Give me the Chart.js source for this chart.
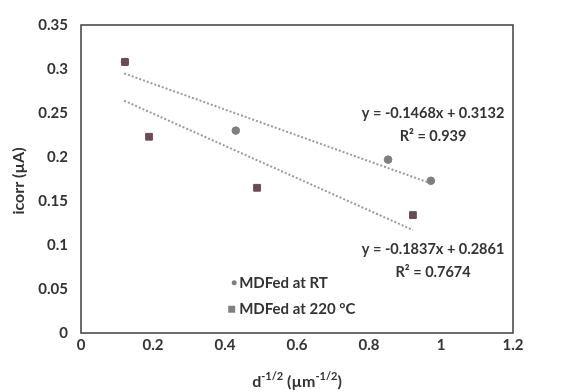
<!DOCTYPE html>
<html>
<head>
<meta charset="utf-8">
<script src="https://cdn.jsdelivr.net/npm/chart.js@4"></script>
<style>
  html, body { margin: 0; padding: 0; background: #fff; }
  #wrap { width: 563px; height: 392px; }
</style>
</head>
<body>
<div id="wrap"><canvas id="chart"></canvas></div>
<script>
// values
const rtX = [0.122, 0.43, 0.853, 0.972];
const rtY = [0.308, 0.23, 0.197, 0.173];
const hotX = [0.122, 0.189, 0.489, 0.922];
const hotY = [0.308, 0.223, 0.165, 0.134];

// trendline end points as drawn in the picture
const rtTrendX = [0.12, 0.972];
const rtTrendY = [0.295, 0.170];
const hotTrendX = [0.12, 0.922];
const hotTrendY = [0.264, 0.117];

const seriesNames = ['MDFed at RT', 'MDFed at 220 °C'];
const rtEq = ['y = -0.1468x + 0.3132', 'R² = 0.939'];
const hotEq = ['y = -0.1837x + 0.2861', 'R² = 0.7674'];

const xTicks = [0, 0.2, 0.4, 0.6, 0.8, 1, 1.2];
const yTicks = [0, 0.05, 0.1, 0.15, 0.2, 0.25, 0.3, 0.35];

const FONT = 'Lato, "Open Sans", sans-serif';
const TEXT = '#333333';
const rtColor = '#7f7f7f';
const hotColor = '#6b4b58';

const pts = (xs, ys) => xs.map((x, i) => ({ x: x, y: ys[i] }));

const overlay = {
  id: 'overlay',
  afterDraw(chart) {
    const { ctx, chartArea: a, scales: { x, y } } = chart;
    ctx.save();
    // frame
    ctx.strokeStyle = '#3c3c3c';
    ctx.lineWidth = 1.5;
    ctx.strokeRect(a.left, a.top, a.right - a.left, a.bottom - a.top);

    // trendline equations
    ctx.fillStyle = TEXT;
    ctx.font = 'bold 14.5px ' + FONT;
    ctx.textAlign = 'center';
    ctx.textBaseline = 'middle';
    const cx = x.getPixelForValue(0.978);
    ctx.fillText(rtEq[0], cx, y.getPixelForValue(0.25));
    ctx.fillText(rtEq[1], cx, y.getPixelForValue(0.224));
    ctx.fillText(hotEq[0], cx, y.getPixelForValue(0.0955));
    ctx.fillText(hotEq[1], cx, y.getPixelForValue(0.0693));

    // legend
    ctx.font = 'bold 15px ' + FONT;
    ctx.textAlign = 'left';
    const lx = x.getPixelForValue(0.42);
    const ly1 = y.getPixelForValue(0.057);
    const ly2 = y.getPixelForValue(0.027);
    ctx.fillStyle = rtColor;
    ctx.beginPath();
    ctx.arc(lx + 2, ly1, 2.5, 0, Math.PI * 2);
    ctx.fill();
    ctx.fillStyle = '#808080';
    ctx.fillRect(lx - 4, ly2 - 3.5, 7, 7);
    ctx.fillStyle = TEXT;
    ctx.fillText(seriesNames[0], lx + 7, ly1);
    ctx.fillText(seriesNames[1], lx + 7, ly2);

    // y title
    ctx.save();
    ctx.translate(19, (a.top + a.bottom) / 2 + 2);
    ctx.rotate(-Math.PI / 2);
    ctx.textAlign = 'center';
    ctx.font = 'bold 16px ' + FONT;
    ctx.fillText('icorr (µA)', 0, 0);
    ctx.restore();

    // x title with superscripts
    const parts = [
      ['d', 16, 0], ['-1/2', 11, -6], [' (µm', 16, 0], ['-1/2', 11, -6], [')', 16, 0]
    ];
    let w = 0;
    parts.forEach(p => { ctx.font = 'bold ' + p[1] + 'px ' + FONT; w += ctx.measureText(p[0]).width; });
    let px = (a.left + a.right) / 2 - w / 2;
    const py = 382;
    ctx.textAlign = 'left';
    parts.forEach(p => {
      ctx.font = 'bold ' + p[1] + 'px ' + FONT;
      ctx.fillText(p[0], px, py + p[2]);
      px += ctx.measureText(p[0]).width;
    });
    ctx.restore();
  }
};

new Chart(document.getElementById('chart'), {
  type: 'scatter',
  data: {
    datasets: [
      {
        label: seriesNames[0] + ' trend',
        type: 'line',
        data: pts(rtTrendX, rtTrendY),
        borderColor: '#9a9a9a',
        borderWidth: 2,
        borderDash: [2, 2],
        pointRadius: 0,
        fill: false,
        order: 3
      },
      {
        label: seriesNames[1] + ' trend',
        type: 'line',
        data: pts(hotTrendX, hotTrendY),
        borderColor: '#9a9a9a',
        borderWidth: 2,
        borderDash: [2, 2],
        pointRadius: 0,
        fill: false,
        order: 2
      },
      {
        label: seriesNames[0],
        data: pts(rtX, rtY),
        pointStyle: 'circle',
        pointRadius: 3.8,
        backgroundColor: rtColor,
        borderColor: rtColor,
        order: 1
      },
      {
        label: seriesNames[1],
        data: pts(hotX, hotY),
        pointStyle: 'rect',
        pointRadius: 4.8,
        backgroundColor: hotColor,
        borderColor: hotColor,
        order: 0
      }
    ]
  },
  options: {
    responsive: true,
    maintainAspectRatio: false,
    animation: false,
    layout: { padding: { left: 0, right: 50, top: 25, bottom: 0 } },
    plugins: { legend: { display: false }, tooltip: { enabled: false } },
    scales: {
      x: {
        type: 'linear',
        min: 0,
        max: 1.2,
        afterBuildTicks: s => { s.ticks = xTicks.map(v => ({ value: v })); },
        afterFit: s => { s.height = 59; },
        grid: { display: false, drawTicks: false },
        border: { display: false },
        ticks: {
          padding: 3,
          color: TEXT,
          font: { family: FONT, size: 15, weight: 'bold' },
          callback: v => String(v)
        }
      },
      y: {
        min: 0,
        max: 0.35,
        afterBuildTicks: s => { s.ticks = yTicks.map(v => ({ value: v })); },
        afterFit: s => { s.width = 81; },
        grid: { display: false, drawTicks: false },
        border: { display: false },
        ticks: {
          padding: 13,
          color: TEXT,
          font: { family: FONT, size: 15, weight: 'bold' },
          callback: v => String(v)
        }
      }
    }
  },
  plugins: [overlay]
});
</script>
</body>
</html>
